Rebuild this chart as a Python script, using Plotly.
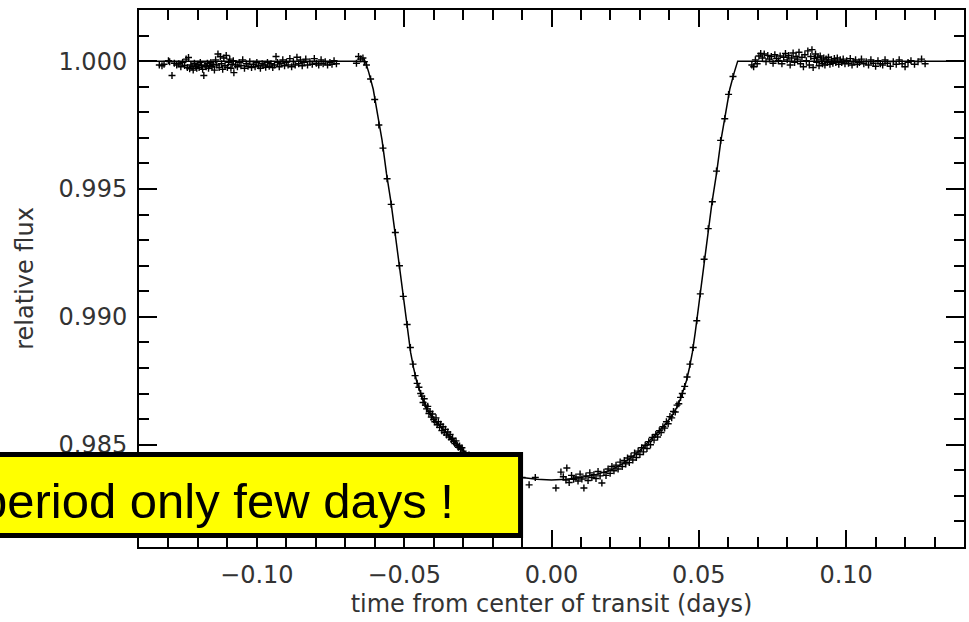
import plotly.graph_objects as go

# ---- model light curve (time from centre of transit [days], relative flux) ----
model_t = [-0.1400, -0.0632, -0.0620, -0.0605, -0.0590, -0.0575, -0.0560, -0.0545, -0.0530,
           -0.0515, -0.0500, -0.0488, -0.0478, -0.0468, -0.0458, -0.0448, -0.0438, -0.0425,
           -0.0410, -0.0390, -0.0370, -0.0350, -0.0325, -0.0300, -0.0270, -0.0240, -0.0200,
           -0.0150, -0.0100, -0.0050, 0.0000, 0.0050, 0.0100, 0.0150, 0.0200, 0.0240, 0.0270,
           0.0300, 0.0325, 0.0350, 0.0370, 0.0390, 0.0410, 0.0425, 0.0438, 0.0448, 0.0458,
           0.0468, 0.0478, 0.0488, 0.0500, 0.0515, 0.0530, 0.0545, 0.0560, 0.0575, 0.0590,
           0.0605, 0.0620, 0.0632, 0.1400]
model_f = [1.00000, 1.00000, 0.99955, 0.99890, 0.99790, 0.99690, 0.99560, 0.99450, 0.99320,
           0.99190, 0.99050, 0.98940, 0.98860, 0.98800, 0.98750, 0.98715, 0.98680, 0.98645,
           0.98615, 0.98585, 0.98560, 0.98537, 0.98507, 0.98478, 0.98450, 0.98425, 0.98400,
           0.98383, 0.98372, 0.98365, 0.98362, 0.98365, 0.98372, 0.98383, 0.98400, 0.98425, 0.98450,
           0.98478, 0.98507, 0.98537, 0.98560, 0.98585, 0.98615, 0.98645, 0.98680, 0.98715, 0.98750,
           0.98800, 0.98860, 0.98940, 0.99050, 0.99190, 0.99320, 0.99450, 0.99560, 0.99690, 0.99790,
           0.99890, 0.99955, 1.00000, 1.00000]

# ---- observations: before transit ----
pre_t = [-0.1331, -0.1322, -0.1315, -0.1300, -0.1296, -0.1288, -0.1280, -0.1272, -0.1265, -0.1258,
         -0.1252, -0.1245, -0.1240, -0.1236, -0.1232, -0.1228, -0.1224, -0.1220, -0.1216, -0.1212,
         -0.1208, -0.1204, -0.1200, -0.1196, -0.1192, -0.1188, -0.1184, -0.1180, -0.1176, -0.1172,
         -0.1168, -0.1164, -0.1160, -0.1156, -0.1152, -0.1148, -0.1144, -0.1140, -0.1136, -0.1132,
         -0.1128, -0.1124, -0.1120, -0.1116, -0.1112, -0.1108, -0.1104, -0.1100, -0.1096, -0.1092,
         -0.1088, -0.1084, -0.1080, -0.1078, -0.1072, -0.1066, -0.1060, -0.1054, -0.1048, -0.1042,
         -0.1036, -0.1030, -0.1024, -0.1018, -0.1012, -0.1006, -0.1000, -0.0994, -0.0988, -0.0982,
         -0.0976, -0.0970, -0.0964, -0.0958, -0.0952, -0.0946, -0.0940, -0.0935, -0.0930, -0.0924,
         -0.0918, -0.0912, -0.0906, -0.0900, -0.0894, -0.0888, -0.0882, -0.0876, -0.0870, -0.0864,
         -0.0858, -0.0852, -0.0846, -0.0840, -0.0834, -0.0828, -0.0820, -0.0812, -0.0805, -0.0798,
         -0.0790, -0.0782, -0.0775, -0.0768, -0.0760, -0.0752, -0.0745, -0.0738, -0.0730,
         -0.0662, -0.0655, -0.0648, -0.0640, -0.0635]
pre_f = [0.99985, 0.99982, 0.99988, 1.00002, 0.99998, 0.99944, 0.99992, 0.99985, 0.99990, 0.99978,
         0.99995, 0.99983, 1.00008, 0.99975, 1.00014, 0.99970, 0.99985, 0.99978, 0.99965, 0.99992,
         0.99980, 0.99972, 0.99988, 0.99975, 0.99995, 0.99982, 0.99968, 0.99944, 0.99985, 0.99978,
         0.99992, 0.99972, 0.99982, 0.99995, 0.99978, 0.99988, 0.99965, 1.00005, 0.99985, 1.00028,
         0.99975, 1.00018, 0.99990, 0.99968, 1.00012, 0.99982, 1.00022, 0.99975, 0.99995, 1.00008,
         0.99972, 0.99988, 1.00002, 0.99955, 0.99985, 0.99978, 0.99995, 0.99982, 1.00005, 0.99972,
         0.99990, 0.99980, 0.99998, 0.99975, 0.99988, 0.99978, 0.99995, 0.99982, 0.99972, 0.99990,
         0.99985, 0.99976, 0.99995, 0.99980, 0.99990, 0.99975, 0.99985, 1.00018, 0.99995, 0.99978,
         0.99990, 1.00005, 0.99982, 0.99995, 0.99985, 1.00010, 0.99978, 0.99998, 0.99985, 1.00015,
         0.99990, 1.00005, 0.99982, 0.99995, 1.00008, 0.99985, 0.99998, 0.99988, 1.00010, 0.99992,
         0.99985, 1.00005, 0.99990, 0.99998, 0.99985, 0.99995, 0.99988, 1.00002, 0.99990,
         0.99992, 1.00018, 1.00008, 1.00012, 0.99998]

# ---- observations: ingress and bottom ----
ing_t = [-0.0628, -0.0614, -0.0600, -0.0586, -0.0572, -0.0558, -0.0544, -0.0530, -0.0516,
         -0.0503, -0.0490, -0.0479, -0.0470, -0.0463, -0.0456, -0.0450, -0.0444, -0.0440,
         -0.0436, -0.0432, -0.0428, -0.0424, -0.0420, -0.0416, -0.0412, -0.0408, -0.0404, -0.0400,
         -0.0396, -0.0392, -0.0388, -0.0384, -0.0380, -0.0376, -0.0372, -0.0368, -0.0364, -0.0360,
         -0.0356, -0.0352, -0.0348, -0.0344, -0.0340, -0.0336, -0.0332, -0.0328, -0.0324, -0.0320,
         -0.0316, -0.0312, -0.0308, -0.0304, -0.0300, -0.0280, -0.0250, -0.0220, -0.0190, -0.0160,
         -0.0130, -0.0100, -0.0076, -0.0055]
ing_f = [0.99985, 0.99930, 0.99850, 0.99750, 0.99660, 0.99540, 0.99440, 0.99330, 0.99200,
         0.99080, 0.98970, 0.98880, 0.98815, 0.98770, 0.98740, 0.98725, 0.98700, 0.98690,
         0.98665, 0.98680, 0.98655, 0.98640, 0.98650, 0.98622, 0.98630, 0.98608, 0.98620, 0.98598,
         0.98590, 0.98605, 0.98578, 0.98590, 0.98568, 0.98580, 0.98555, 0.98570, 0.98548, 0.98560,
         0.98538, 0.98550, 0.98530, 0.98540, 0.98520, 0.98525, 0.98512, 0.98505, 0.98515, 0.98498,
         0.98490, 0.98495, 0.98482, 0.98488, 0.98475, 0.98460, 0.98440, 0.98420, 0.98400, 0.98390,
         0.98378, 0.98372, 0.98343, 0.98372]

bot_t = [0.0015, 0.0032, 0.0040, 0.0049, 0.0052, 0.0060, 0.0068, 0.0075, 0.0083, 0.0090,
         0.0097, 0.0103, 0.0110, 0.0117, 0.0124, 0.0130, 0.0137, 0.0144, 0.0151, 0.0158,
         0.0165, 0.0171, 0.0178, 0.0185, 0.0192, 0.0199, 0.0205, 0.0212, 0.0219, 0.0226,
         0.0233, 0.0240, 0.0247, 0.0252, 0.0258, 0.0264, 0.0270, 0.0276, 0.0282, 0.0288,
         0.0294, 0.0300, 0.0306, 0.0312, 0.0318, 0.0324, 0.0330, 0.0336, 0.0342, 0.0348,
         0.0354, 0.0360, 0.0366, 0.0372, 0.0378, 0.0384, 0.0390, 0.0396, 0.0402, 0.0408,
         0.0414, 0.0420, 0.0426, 0.0432, 0.0438]
bot_f = [0.98331, 0.98393, 0.98375, 0.98362, 0.98409, 0.98352, 0.98380, 0.98365, 0.98374, 0.98358,
         0.98385, 0.98366, 0.98331, 0.98378, 0.98360, 0.98390, 0.98372, 0.98383, 0.98368, 0.98395,
         0.98378, 0.98350, 0.98392, 0.98380, 0.98405, 0.98388, 0.98415, 0.98398, 0.98420, 0.98405,
         0.98432, 0.98415, 0.98438, 0.98425, 0.98448, 0.98430, 0.98455, 0.98440, 0.98468, 0.98450,
         0.98475, 0.98462, 0.98488, 0.98472, 0.98498, 0.98485, 0.98512, 0.98500, 0.98528, 0.98518,
         0.98540, 0.98530, 0.98555, 0.98548, 0.98570, 0.98565, 0.98590, 0.98582, 0.98610, 0.98605,
         0.98630, 0.98628, 0.98655, 0.98660, 0.98685]

# ---- observations: egress and after transit ----
egr_t = [0.0444, 0.0452, 0.0460, 0.0470, 0.0481, 0.0493, 0.0505, 0.0518, 0.0532,
         0.0546, 0.0560, 0.0574, 0.0588, 0.0601, 0.0616]
egr_f = [0.98700, 0.98728, 0.98765, 0.98815, 0.98880, 0.98985, 0.99090, 0.99225, 0.99345,
         0.99450, 0.99570, 0.99690, 0.99775, 0.99870, 0.99940]

post_t = [0.0680, 0.0686, 0.0692, 0.0698, 0.0704, 0.0710, 0.0716, 0.0722, 0.0728, 0.0734,
          0.0740, 0.0746, 0.0752, 0.0758, 0.0764, 0.0770, 0.0776, 0.0782, 0.0788, 0.0794,
          0.0800, 0.0805, 0.0810, 0.0815, 0.0820, 0.0825, 0.0830, 0.0835, 0.0840, 0.0845,
          0.0850, 0.0855, 0.0860, 0.0865, 0.0870, 0.0875, 0.0880, 0.0884, 0.0888, 0.0892,
          0.0896, 0.0900, 0.0904, 0.0908, 0.0912, 0.0916, 0.0920, 0.0924, 0.0928, 0.0932,
          0.0936, 0.0940, 0.0945, 0.0950, 0.0955, 0.0960, 0.0965, 0.0970, 0.0975, 0.0980,
          0.0985, 0.0990, 0.0996, 0.1002, 0.1008, 0.1014, 0.1020, 0.1026, 0.1032, 0.1038,
          0.1045, 0.1052, 0.1060, 0.1068, 0.1076, 0.1084, 0.1092, 0.1100, 0.1108, 0.1116,
          0.1124, 0.1132, 0.1140, 0.1150, 0.1160, 0.1170, 0.1180, 0.1190, 0.1200, 0.1210,
          0.1220, 0.1232, 0.1244, 0.1256, 0.1268]
post_f = [0.99985, 0.99978, 1.00005, 0.99990, 1.00020, 1.00030, 1.00012, 1.00028, 0.99998, 1.00022,
          1.00008, 1.00018, 0.99992, 1.00025, 1.00010, 1.00002, 1.00020, 0.99990, 1.00015, 1.00030,
          1.00005, 1.00022, 0.99985, 1.00012, 1.00032, 0.99995, 1.00018, 1.00008, 1.00035, 0.99990,
          1.00015, 0.99978, 1.00025, 1.00002, 1.00040, 0.99985, 1.00018, 1.00045, 0.99975, 1.00010,
          1.00028, 0.99995, 1.00015, 0.99982, 1.00020, 1.00005, 0.99990, 1.00012, 0.99985, 1.00008,
          0.99995, 1.00015, 0.99988, 1.00005, 0.99992, 1.00010, 0.99995, 1.00012, 0.99988, 1.00005,
          0.99995, 1.00008, 0.99990, 1.00002, 0.99992, 1.00010, 0.99985, 0.99998, 1.00005, 0.99988,
          0.99995, 1.00008, 0.99990, 0.99998, 0.99985, 1.00005, 0.99992, 0.99980, 1.00002, 0.99990,
          0.99985, 1.00005, 0.99992, 0.99980, 0.99998, 0.99988, 1.00005, 0.99990, 0.99978, 0.99995,
          1.00002, 0.99988, 0.99998, 1.00008, 0.99990]

obs_t = pre_t + ing_t + bot_t + egr_t + post_t
obs_f = pre_f + ing_f + bot_f + egr_f + post_f

x_range = [-0.14, 0.14]
y_range = [0.981, 1.002]
x_title = "time from center of transit (days)"
y_title = "relative flux"
note_text = "period only few days !"

tick_font = dict(family="DejaVu Sans", size=24, color="#333333")
title_font = dict(family="DejaVu Sans", size=24, color="#333333")

fig = go.Figure()
fig.add_trace(go.Scatter(x=model_t, y=model_f, mode="lines",
                         line=dict(color="black", width=1.5), hoverinfo="skip"))
fig.add_trace(go.Scatter(x=obs_t, y=obs_f, mode="markers",
                         marker=dict(symbol="cross-thin", size=5, color="black",
                                     line=dict(color="black", width=1.4))))

axis_common = dict(showgrid=False, zeroline=False, showline=True, linecolor="black",
                   linewidth=2, mirror="allticks", ticks="inside", tickcolor="black",
                   tickwidth=1.5)

fig.update_xaxes(range=x_range, tick0=0, dtick=0.05, tickformat=".2f", ticklen=17,
                 tickfont=tick_font, ticklabelstandoff=5,
                 title=dict(text=x_title, font=title_font, standoff=7),
                 minor=dict(tick0=0, dtick=0.01, ticks="inside", ticklen=10,
                            tickwidth=1.5, tickcolor="black", showgrid=False),
                 **axis_common)
fig.update_yaxes(range=y_range, tick0=1.0, dtick=0.005, tickformat=".3f", ticklen=18,
                 tickfont=tick_font, ticklabelstandoff=5,
                 title=dict(text=y_title, font=title_font, standoff=18),
                 minor=dict(tick0=1.0, dtick=0.001, ticks="inside", ticklen=10,
                            tickwidth=1.5, tickcolor="black", showgrid=False),
                 **axis_common)

# yellow note box (extends beyond the left edge of the picture)
fig.add_shape(type="rect", xref="paper", yref="paper",
              x0=-0.3, x1=0.4625, y0=0.0214, y1=0.1723,
              fillcolor="#FFFF00", line=dict(color="black", width=5), layer="above")
fig.add_annotation(xref="paper", yref="paper", x=0.3845, y=0.0860,
                   xanchor="right", yanchor="middle", showarrow=False,
                   text=note_text,
                   font=dict(family="Liberation Sans, Arial", size=49, color="black"))

fig.update_layout(width=969, height=622, showlegend=False,
                  margin=dict(l=139, r=3, t=10, b=75),
                  paper_bgcolor="white", plot_bgcolor="white")

fig.write_html("out.html")
